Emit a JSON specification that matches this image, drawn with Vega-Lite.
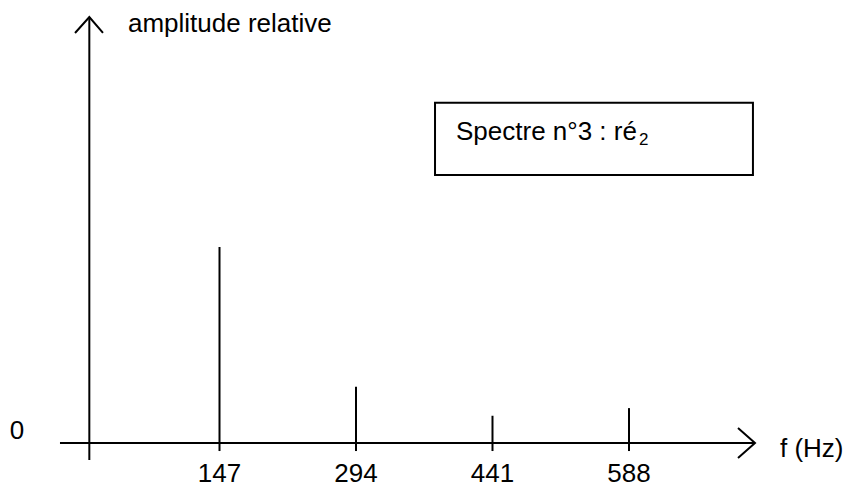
{
  "$schema": "https://vega.github.io/schema/vega-lite/v6.json",
  "width": 851,
  "height": 490,
  "padding": 0,
  "autosize": {"type": "fit", "contains": "padding"},
  "background": "white",
  "config": {"view": {"stroke": null}, "text": {"font": "Liberation Sans", "color": "black"}},
  "datasets": {
    "spectrum": [
      {"f": 147, "amp": 1.0, "label": "147"},
      {"f": 294, "amp": 0.287, "label": "294"},
      {"f": 441, "amp": 0.139, "label": "441"},
      {"f": 588, "amp": 0.178, "label": "588"}
    ],
    "lines": [
      {"seg": "yaxis", "i": 0, "x": 6.8, "y": -0.087},
      {"seg": "yaxis", "i": 1, "x": 6.8, "y": 2.173},
      {"seg": "yarrow", "i": 0, "x": -8.6, "y": 2.092},
      {"seg": "yarrow", "i": 1, "x": 6.8, "y": 2.173},
      {"seg": "yarrow", "i": 2, "x": 21.5, "y": 2.092},
      {"seg": "xaxis", "i": 0, "x": -24.8, "y": 0},
      {"seg": "xaxis", "i": 1, "x": 723.7, "y": 0},
      {"seg": "xarrow", "i": 0, "x": 705.4, "y": 0.0765},
      {"seg": "xarrow", "i": 1, "x": 723.7, "y": 0},
      {"seg": "xarrow", "i": 2, "x": 705.4, "y": -0.0765}
    ],
    "leftLabels": [
      {"x": 48.4, "y": 2.097, "text": "amplitude relative"},
      {"x": 750.6, "y": -0.0714, "text": "f (Hz)"},
      {"x": 401.7, "y": 1.545, "text": "Spectre n°3 : ré"}
    ],
    "zeroLabel": [
      {"x": -71.1, "y": 0.019, "text": "0"}
    ],
    "subscript": [
      {"x": 598.8, "y": 1.52, "text": "2"}
    ],
    "box": [
      {"x": 379.1, "x2": 721.5, "y": 1.736, "y2": 1.367}
    ]
  },
  "layer": [
    {
      "data": {"name": "box"},
      "mark": {"type": "rect", "fill": "white", "stroke": "black", "strokeWidth": 2},
      "encoding": {
        "x": {"field": "x", "type": "quantitative", "scale": {"domain": [-89.4, 827.1], "nice": false, "zero": false}, "axis": null},
        "x2": {"field": "x2"},
        "y": {"field": "y", "type": "quantitative", "scale": {"domain": [-0.2398, 2.2602], "nice": false, "zero": false}, "axis": null},
        "y2": {"field": "y2"}
      }
    },
    {
      "data": {"name": "lines"},
      "mark": {"type": "line", "color": "black", "strokeWidth": 2},
      "encoding": {
        "x": {"field": "x", "type": "quantitative"},
        "y": {"field": "y", "type": "quantitative"},
        "detail": {"field": "seg"},
        "order": {"field": "i", "type": "quantitative"}
      }
    },
    {
      "data": {"name": "spectrum"},
      "mark": {"type": "rule", "color": "black", "strokeWidth": 2},
      "encoding": {
        "x": {"field": "f", "type": "quantitative"},
        "y": {"field": "amp", "type": "quantitative"},
        "y2": {"datum": -0.041}
      }
    },
    {
      "data": {"name": "spectrum"},
      "mark": {"type": "text", "fontSize": 26, "align": "center", "baseline": "alphabetic"},
      "encoding": {
        "x": {"field": "f", "type": "quantitative"},
        "y": {"datum": -0.199},
        "text": {"field": "label"}
      }
    },
    {
      "data": {"name": "leftLabels"},
      "mark": {"type": "text", "fontSize": 26, "align": "left", "baseline": "alphabetic"},
      "encoding": {
        "x": {"field": "x", "type": "quantitative"},
        "y": {"field": "y", "type": "quantitative"},
        "text": {"field": "text"}
      }
    },
    {
      "data": {"name": "zeroLabel"},
      "mark": {"type": "text", "fontSize": 26, "align": "center", "baseline": "alphabetic"},
      "encoding": {
        "x": {"field": "x", "type": "quantitative"},
        "y": {"field": "y", "type": "quantitative"},
        "text": {"field": "text"}
      }
    },
    {
      "data": {"name": "subscript"},
      "mark": {"type": "text", "fontSize": 17, "align": "left", "baseline": "alphabetic"},
      "encoding": {
        "x": {"field": "x", "type": "quantitative"},
        "y": {"field": "y", "type": "quantitative"},
        "text": {"field": "text"}
      }
    }
  ]
}
